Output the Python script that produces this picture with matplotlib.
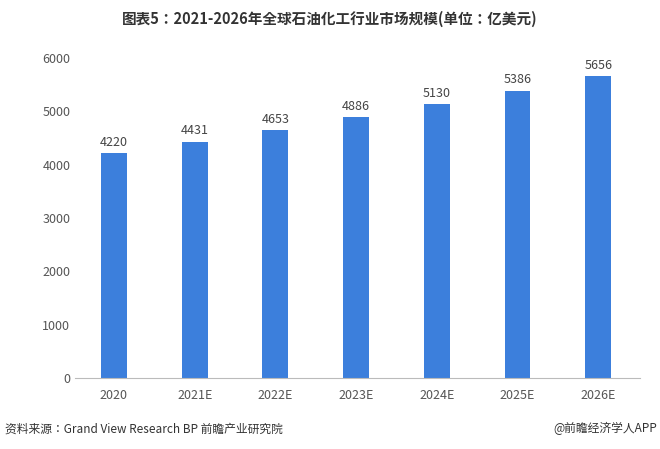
import matplotlib
matplotlib.use("Agg")
import matplotlib.pyplot as plt

plt.rcParams['font.family'] = ['sans-serif']
plt.rcParams['font.sans-serif'] = ['Noto Sans CJK SC', 'Noto Sans CJK JP', 'Noto Sans CJK TC',
                                   'Noto Sans CJK KR', 'DejaVu Sans']

categories = ["2020", "2021E", "2022E", "2023E", "2024E", "2025E", "2026E"]
values = [4220, 4431, 4653, 4886, 5130, 5386, 5656]
yticks = [0, 1000, 2000, 3000, 4000, 5000, 6000]

fig = plt.figure(figsize=(6.6, 4.49), dpi=100)
ax = fig.add_axes([0.114, 0.158, 0.856, 0.713])
bars = ax.bar(categories, values, width=0.32, color="#3c7fdc")
for b, v in zip(bars, values):
    ax.text(b.get_x() + b.get_width() / 2, v + 80, str(v), ha="center", va="bottom",
            fontsize=9, color="#444444")
ax.set_ylim(0, 6000)
ax.set_yticks(yticks)
ax.set_xlim(-0.48, 6.52)
for s in ["top", "right", "left"]:
    ax.spines[s].set_visible(False)
ax.spines["bottom"].set_color("#bbbbbb")
ax.tick_params(axis="both", length=0, labelsize=9, colors="#555555")
ax.tick_params(axis="x", pad=8)

fig.text(0.5, 0.958, "图表5：2021-2026年全球石油化工行业市场规模(单位：亿美元)",
         ha="center", va="center", fontsize=10.5, fontweight="bold", color="#333333")
fig.text(0.008, 0.045, "资料来源：Grand View Research BP 前瞻产业研究院", ha="left",
         va="center", fontsize=8.5, color="#333333")
fig.text(0.995, 0.045, "@前瞻经济学人APP", ha="right", va="center", fontsize=8.5, color="#333333")
fig.savefig("out.png", dpi=100)
